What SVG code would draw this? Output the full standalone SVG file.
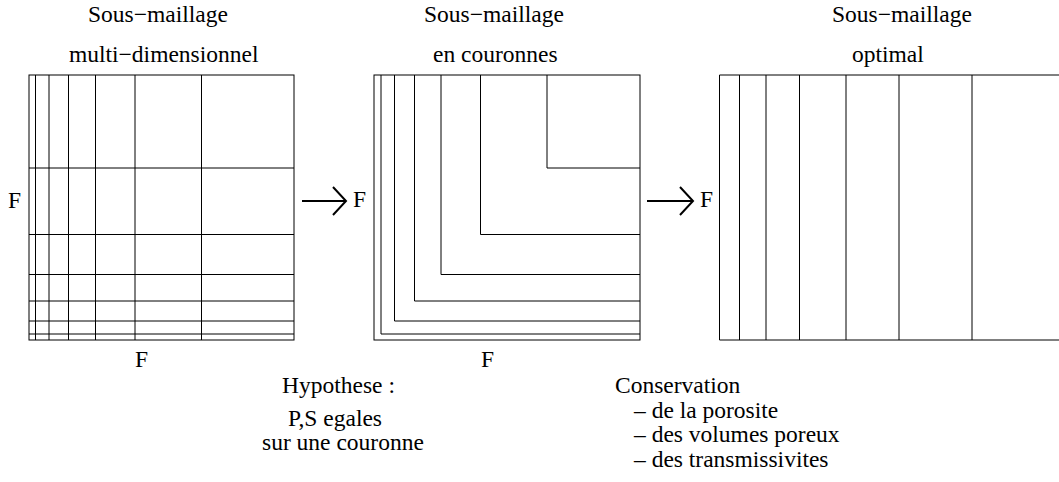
<svg xmlns="http://www.w3.org/2000/svg" width="1059" height="482" viewBox="0 0 1059 482">
<style>
text{font-family:"Liberation Serif","DejaVu Serif",serif;font-size:23.5px;fill:#000}
.g{fill:none;stroke:#000;stroke-width:1}
.arr{fill:none;stroke:#000;stroke-width:2}
</style>
<defs>
<marker id="chev" markerUnits="userSpaceOnUse" viewBox="-16 -16 20 32" markerWidth="20" markerHeight="32" refX="0" refY="0" orient="auto">
<path d="M-13,-14 L0,0 L-13,14" fill="none" stroke="#000" stroke-width="2"/>
</marker>
</defs>
<rect width="1059" height="482" fill="#fff"/>

<g id="titles">
<text x="88" y="22">Sous−maillage</text>
<text x="69" y="62">multi−dimensionnel</text>
<text x="424" y="22">Sous−maillage</text>
<text x="433" y="62">en couronnes</text>
<text x="832" y="22">Sous−maillage</text>
<text x="852" y="62">optimal</text>
</g>

<g id="grid1">
<rect class="g" x="29" y="75" width="265" height="265"/>
<path class="g" d="M35.5,75V340M49,75V340M68.5,75V340M95.5,75V340M135,75V340M201.5,75V340"/>
<path class="g" d="M29,334H294M29,321H294M29,301H294M29,274.5H294M29,234.5H294M29,168H294"/>
<text x="8" y="208">F</text>
<text x="135" y="367">F</text>
</g>

<g id="grid2">
<rect class="g" x="374" y="75" width="266" height="265"/>
<path class="g" d="M381,75V334H640M394.5,75V321H640M414.5,75V301H640M441,75V274.5H640M480.5,75V234.5H640M547,75V168H640"/>
<text x="353" y="207">F</text>
<text x="481" y="367">F</text>
</g>

<g id="grid3">
<path class="g" d="M1060,75H719.5V340H1060"/>
<path class="g" d="M739.5,75V340M766,75V340M799.5,75V340M846,75V340M899,75V340M972,75V340"/>
<text x="700" y="207">F</text>
</g>

<g id="connectors">
<line class="arr" x1="302" y1="201" x2="346" y2="201" marker-end="url(#chev)"/>
<line class="arr" x1="647" y1="201" x2="693" y2="201" marker-end="url(#chev)"/>
</g>

<g id="hypothese">
<text x="282" y="393">Hypothese :</text>
<text x="288" y="426">P,S egales</text>
<text x="262" y="450">sur une couronne</text>
</g>

<g id="conservation">
<text x="615" y="393">Conservation</text>
<text x="634" y="418">– de la porosite</text>
<text x="634" y="442">– des volumes poreux</text>
<text x="634" y="467">– des transmissivites</text>
</g>
</svg>
